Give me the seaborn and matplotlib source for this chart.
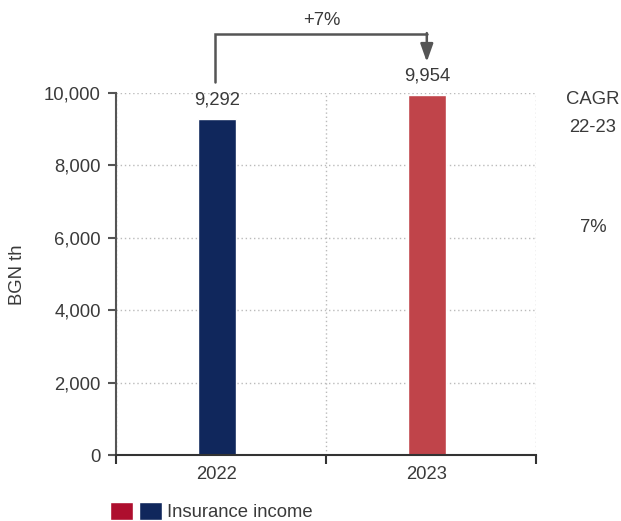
import matplotlib
matplotlib.use("Agg")
import matplotlib.pyplot as plt
from matplotlib.patches import Patch
from matplotlib.legend_handler import HandlerTuple
from matplotlib.ticker import FixedLocator, FuncFormatter
import seaborn as sns
import pandas as pd

# Data
years = ["2022", "2023"]
income = [9292, 9954]
value_labels = ["9,292", "9,954"]
bar_colors = ["#10275C", "#C0444A"]
legend_colors = ["#AE0E2E", "#10275C"]
series_name = "Insurance income"
growth_label = "+7%"
cagr_title = ["CAGR", "22-23"]
cagr_value = "7%"
y_ticks = [0, 2000, 4000, 6000, 8000, 10000]

sns.set_theme(style="white")
plt.rcParams["font.family"] = ["Liberation Sans", "DejaVu Sans"]
TEXT = "#3A3A3A"
AXIS = "#555555"
FS = 13.3

df = pd.DataFrame({"year": years, "income": income})

fig = plt.figure(figsize=(6.21, 5.21), dpi=100)
ax = fig.add_axes([116 / 621, 66 / 521, 420 / 621, 362 / 521])

sns.barplot(data=df, x="year", y="income", hue="year", palette=bar_colors,
            width=0.18, legend=False, ax=ax, saturation=1)

X0, X1 = -0.48, 1.52
ax.set_xlim(X0, X1)
ax.set_ylim(0, 10000)
ax.set_xlabel("")
ax.set_ylabel("")

# Axes styling
for s in ["top", "right"]:
    ax.spines[s].set_visible(False)
ax.spines["left"].set_color(AXIS)
ax.spines["left"].set_linewidth(1.5)
ax.spines["bottom"].set_color("#333333")
ax.spines["bottom"].set_linewidth(1.5)

ax.set_yticks(y_ticks)
ax.yaxis.set_major_formatter(FuncFormatter(lambda v, p: f"{int(v):,}"))
ax.tick_params(axis="y", which="major", left=True, length=6, width=1.5,
               color=AXIS, labelsize=FS, labelcolor=TEXT, pad=5)
ax.tick_params(axis="x", which="major", length=0, labelsize=FS,
               labelcolor=TEXT, pad=8)
ax.xaxis.set_minor_locator(FixedLocator([X0, (X0 + X1) / 2, X1]))
ax.tick_params(axis="x", which="minor", bottom=True, length=6.5, width=1.5,
               color="#333333", direction="out")

ax.grid(False)
ax.grid(axis="y", which="major", color="#BBBBBB", linestyle=(0, (1, 2)), linewidth=1)
ax.grid(axis="x", which="minor", color="#BBBBBB", linestyle=(0, (1, 2)), linewidth=1)
ax.set_axisbelow(True)

# Value labels above bars
for i, (v, lab) in enumerate(zip(income, value_labels)):
    ax.annotate(lab, xy=(i, v), xytext=(0, 7), textcoords="offset points",
                ha="center", va="bottom", fontsize=FS, color=TEXT)

# Growth bracket between the two years
y_start, y_top, y_tip = 10304, 11630, 10860
ax.plot([-0.01, -0.01, 1], [y_start, y_top, y_top], color=AXIS, lw=1.8,
        clip_on=False, solid_joinstyle="miter")
ax.annotate("", xy=(1, y_tip), xytext=(1, y_top + 25),
            arrowprops=dict(arrowstyle="-|>,head_length=0.9,head_width=0.32",
                            color=AXIS, lw=1.8, shrinkA=0, shrinkB=0),
            annotation_clip=False)
ax.text(0.5, 12000, growth_label, ha="center", va="center", fontsize=FS,
        color=TEXT, clip_on=False)

# Y axis title
fig.text(17 / 621, 1 - 275 / 521, "BGN th", rotation=90, ha="center",
         va="center", fontsize=FS, color=TEXT)

# CAGR column
fig.text(593 / 621, 1 - 100 / 521, cagr_title[0], ha="center", va="center",
         fontsize=FS, color=TEXT)
fig.text(593 / 621, 1 - 127 / 521, cagr_title[1], ha="center", va="center",
         fontsize=FS, color=TEXT)
fig.text(593 / 621, 1 - 227 / 521, cagr_value, ha="center", va="center",
         fontsize=FS, color=TEXT)

# Legend
handles = [(Patch(facecolor=legend_colors[0]), Patch(facecolor=legend_colors[1]))]
fig.legend(handles, [series_name], loc="lower left",
           bbox_to_anchor=(110 / 621, 0 / 521),
           handler_map={tuple: HandlerTuple(ndivide=None, pad=0.33)},
           frameon=False, fontsize=FS, labelcolor=TEXT, borderpad=0,
           borderaxespad=0, handlelength=2.8, handleheight=1.15,
           handletextpad=0.3)

fig.savefig("out.png", dpi=100)
